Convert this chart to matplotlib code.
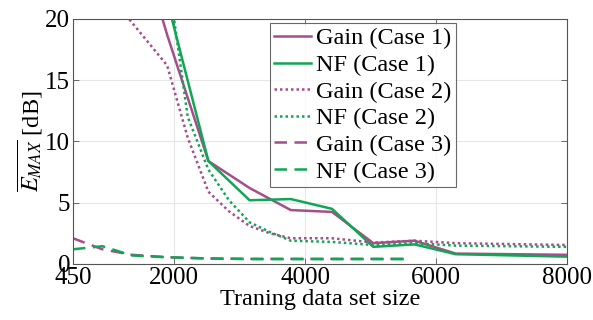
import matplotlib
matplotlib.use("Agg")
import matplotlib.pyplot as plt

plt.rcParams["font.family"] = ["Liberation Serif", "DejaVu Serif"]
plt.rcParams["mathtext.fontset"] = "stix"

# Training set sizes and E_MAX curves
x_case1 = [1260, 1890, 2520, 3150, 3780, 4410, 5040, 5670, 6300, 8000]
gain_case1 = [30.0, 18.7, 8.4, 6.2, 4.4, 4.25, 1.7, 1.9, 0.85, 0.75]
nf_case1 = [40.0, 21.5, 8.4, 5.2, 5.3, 4.5, 1.4, 1.6, 0.8, 0.6]

x_case2 = [1260, 1890, 2205, 2520, 2835, 3150, 3465, 3780, 4410, 5040, 5670, 6300, 8000]
gain_case2 = [20.3, 16.2, 10.3, 5.9, 4.3, 3.1, 2.5, 2.1, 2.1, 1.75, 1.9, 1.7, 1.55]
nf_case2 = [40.0, 24.0, 12.0, 7.7, 5.2, 3.4, 2.6, 1.9, 1.8, 1.55, 1.7, 1.5, 1.4]

x_case3 = [450, 900, 1350, 1890, 2520, 3150, 3780, 4410, 5040, 5600]
gain_case3 = [2.1, 1.2, 0.75, 0.55, 0.45, 0.42, 0.42, 0.42, 0.42, 0.42]
nf_case3 = [1.2, 1.45, 0.7, 0.55, 0.45, 0.4, 0.4, 0.4, 0.4, 0.4]

x_ticks = [450, 2000, 4000, 6000, 8000]
y_ticks = [0, 5, 10, 15, 20]

pink = "#a64d8b"
green = "#10a653"

fig = plt.figure(figsize=(5.93, 3.2), dpi=100)
ax = fig.add_axes([0.123, 0.175, 0.833, 0.766])

lw = 1.8
dotted = (0, (1, 1.2))
dashed = (0, (5, 3))
ax.plot(x_case1, gain_case1, color=pink, lw=lw, label="Gain (Case 1)")
ax.plot(x_case1, nf_case1, color=green, lw=lw, label="NF (Case 1)")
ax.plot(x_case2, gain_case2, color=pink, lw=lw, ls=dotted, label="Gain (Case 2)")
ax.plot(x_case2, nf_case2, color=green, lw=lw, ls=dotted, label="NF (Case 2)")
ax.plot(x_case3, gain_case3, color=pink, lw=lw, ls=dashed, label="Gain (Case 3)")
ax.plot(x_case3, nf_case3, color=green, lw=lw, ls=dashed, label="NF (Case 3)")

ax.set_xlim(450, 8000)
ax.set_ylim(0, 20)
ax.set_xticks(x_ticks)
ax.set_yticks(y_ticks)
ax.tick_params(direction="in", top=True, right=True, labelsize=18,
               length=4, width=0.6, color="#555555", pad=2)
ax.grid(True, color="#e6e6e6", lw=0.8)
ax.set_axisbelow(True)
for sp in ax.spines.values():
    sp.set_color("#555555")
    sp.set_linewidth(0.8)

ax.set_xlabel("Traning data set size", fontsize=17.5, labelpad=0)
ax.set_ylabel(r"$\overline{E_{MAX}}$ [dB]", fontsize=17.5, labelpad=0)

leg = ax.legend(loc="upper right", bbox_to_anchor=(0.7755, 0.985), fontsize=17.5,
                frameon=True, fancybox=False, edgecolor="#444444",
                handlelength=1.5, handletextpad=0.2, borderpad=0.2,
                labelspacing=0.19, borderaxespad=0.0)
leg.get_frame().set_linewidth(0.8)

fig.savefig("out.png", dpi=100)
